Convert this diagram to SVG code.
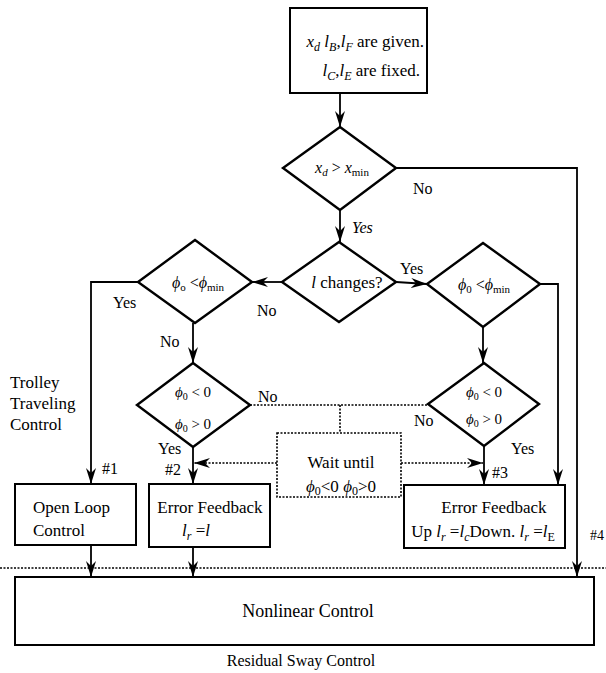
<svg xmlns="http://www.w3.org/2000/svg" width="606" height="673" viewBox="0 0 606 673">
<style>
  text { font-family: 'Liberation Serif', 'DejaVu Serif', serif; fill: #000; }
  .t18 { font-size: 18px; }
  .t17 { font-size: 17px; }
  .t16 { font-size: 16px; }
  .t15 { font-size: 15px; }
  .it { font-style: italic; }
  .box { fill: #fff; stroke: #000; stroke-width: 2; }
  .dia { fill: #fff; stroke: #000; stroke-width: 2.4; }
  .ln { fill: none; stroke: #000; stroke-width: 1.8; }
  .dot { fill: none; stroke: #000; stroke-width: 1.6; stroke-dasharray: 2 1.5; }
  .dotbox { fill: none; stroke: #000; stroke-width: 1.6; stroke-dasharray: 2 1.5; }
</style>
<defs>
  <marker id="arr" viewBox="0 0 16 10" refX="16" refY="5" markerWidth="16" markerHeight="10" markerUnits="userSpaceOnUse" orient="auto">
    <path d="M0,0 L16,5 L0,10 L5,5 z" fill="#000"/>
  </marker>
</defs>

<rect width="606" height="673" fill="#fff"/>

<g font-family="Liberation Serif, DejaVu Serif, serif">
<!-- connectors -->
<g id="connectors">
  <path class="ln" d="M340,93 V127" marker-end="url(#arr)"/>
  <path class="ln" d="M340,210 V242" marker-end="url(#arr)"/>
  <path class="ln" d="M396,168 H577 V577" marker-end="url(#arr)"/>
  <path class="ln" d="M282,282 H252" marker-end="url(#arr)"/>
  <path class="ln" d="M396,282 L427,284" marker-end="url(#arr)"/>
  <path class="ln" d="M138,282 H91 V484" marker-end="url(#arr)"/>
  <path class="ln" d="M193,323 V363" marker-end="url(#arr)"/>
  <path class="ln" d="M193,447 V484" marker-end="url(#arr)"/>
  <path class="ln" d="M540,284 H558 V485" marker-end="url(#arr)"/>
  <path class="ln" d="M483,327 V363" marker-end="url(#arr)"/>
  <path class="ln" d="M484,446 V485" marker-end="url(#arr)"/>
  <path class="ln" d="M91,545 V577" marker-end="url(#arr)"/>
  <path class="ln" d="M193,547 V577" marker-end="url(#arr)"/>
  <!-- waiting branch -->
  <path class="dot" d="M250,405 H428"/>
  <path class="dot" d="M340,405 V433"/>
  <path class="dot" d="M277,463 H194" marker-end="url(#arr)"/>
  <path class="dot" d="M401,463 H483" marker-end="url(#arr)"/>
  <!-- boundary between trolley control and sway control -->
  <path class="dot" d="M0,568 H606"/>
</g>

<!-- start box -->
<g id="start">
  <rect class="box" x="290" y="8" width="137" height="85"/>
  <text class="t17" x="424" y="47" text-anchor="end"><tspan class="it">x</tspan><tspan class="it" font-size="12" dy="4">d</tspan><tspan dy="-4"> </tspan><tspan class="it">l</tspan><tspan class="it" font-size="12" dy="4">B</tspan><tspan dy="-4">,</tspan><tspan class="it">l</tspan><tspan class="it" font-size="12" dy="4">F</tspan><tspan dy="-4">  are given.</tspan></text>
  <text class="t17" x="420" y="76" text-anchor="end"><tspan class="it">l</tspan><tspan class="it" font-size="12" dy="4">C</tspan><tspan dy="-4">,</tspan><tspan class="it">l</tspan><tspan class="it" font-size="12" dy="4">E</tspan><tspan dy="-4">  are fixed.</tspan></text>
</g>

<!-- decision: travel distance -->
<g id="dec-distance">
  <polygon class="dia" points="340,127 396,168 340,210 283,168"/>
  <text class="t16" x="342" y="173" text-anchor="middle"><tspan class="it">x</tspan><tspan class="it" font-size="11" dy="3">d</tspan><tspan dy="-3"> &gt; </tspan><tspan class="it">x</tspan><tspan font-size="11" dy="3">min</tspan></text>
  <text class="t16" x="413" y="194">No</text>
  <text class="t16 it" x="352" y="233">Yes</text>
</g>

<!-- decision: rope length changes -->
<g id="dec-length">
  <polygon class="dia" points="339,242 396,282 339,322 282,282"/>
  <text class="t17" x="347" y="288" text-anchor="middle"><tspan class="it">l</tspan> changes?</text>
  <text class="t16" x="400" y="274">Yes</text>
  <text class="t16" x="257" y="316">No</text>
</g>

<!-- decision: initial sway, constant length -->
<g id="dec-sway-left">
  <polygon class="dia" points="195,240 252,282 195,323 138,282"/>
  <text class="t16" x="198" y="288" text-anchor="middle"><tspan class="it">ϕ</tspan><tspan font-size="11" dy="3">o</tspan><tspan dy="-3"> &lt;</tspan><tspan class="it">ϕ</tspan><tspan font-size="11" dy="3">min</tspan></text>
  <text class="t16" x="113" y="308">Yes</text>
  <text class="t16" x="160" y="347">No</text>
</g>

<!-- decision: initial sway, changing length -->
<g id="dec-sway-right">
  <polygon class="dia" points="483,243 540,284 483,327 427,284"/>
  <text class="t16" x="484" y="290" text-anchor="middle"><tspan class="it">ϕ</tspan><tspan font-size="11" dy="3">0</tspan><tspan dy="-3"> &lt;</tspan><tspan class="it">ϕ</tspan><tspan font-size="11" dy="3">min</tspan></text>
</g>

<!-- decision: sway sign, constant length -->
<g id="dec-sign-left">
  <polygon class="dia" points="193,363 250,405 193,447 137,405"/>
  <text class="t15" x="193" y="397" text-anchor="middle"><tspan class="it">ϕ</tspan><tspan font-size="10" dy="3">0</tspan><tspan dy="-3"> &lt; 0</tspan></text>
  <text class="t15" x="193" y="429" text-anchor="middle"><tspan class="it">ϕ</tspan><tspan font-size="10" dy="3">0</tspan><tspan dy="-3"> &gt; 0</tspan></text>
  <text class="t16" x="258" y="402">No</text>
  <text class="t16" x="158" y="454">Yes</text>
  <text class="t16" x="165" y="475">#2</text>
</g>

<!-- decision: sway sign, changing length -->
<g id="dec-sign-right">
  <polygon class="dia" points="484,363 539,404 484,446 428,404"/>
  <text class="t15" x="484" y="397" text-anchor="middle"><tspan class="it">ϕ</tspan><tspan font-size="10" dy="3">0</tspan><tspan dy="-3"> &lt; 0</tspan></text>
  <text class="t15" x="484" y="424" text-anchor="middle"><tspan class="it">ϕ</tspan><tspan font-size="10" dy="3">0</tspan><tspan dy="-3"> &gt; 0</tspan></text>
  <text class="t16" x="414" y="426">No</text>
  <text class="t16" x="511" y="454">Yes</text>
  <text class="t16" x="492" y="478">#3</text>
</g>

<!-- wait block -->
<g id="wait">
  <rect class="dotbox" x="277" y="433" width="124" height="64"/>
  <text class="t17" x="341" y="468" text-anchor="middle">Wait until</text>
  <text class="t17" x="341" y="492" text-anchor="middle"><tspan class="it">ϕ</tspan><tspan font-size="12" dy="3">0</tspan><tspan dy="-3">&lt;0 </tspan><tspan class="it">ϕ</tspan><tspan font-size="12" dy="3">0</tspan><tspan dy="-3">&gt;0</tspan></text>
</g>

<!-- left side label -->
<g id="label-trolley">
  <text class="t17" x="10" y="388">Trolley</text>
  <text class="t17" x="10" y="409">Traveling</text>
  <text class="t17" x="10" y="430">Control</text>
  <text class="t16" x="102" y="474">#1</text>
</g>

<!-- open loop control -->
<g id="open-loop">
  <rect class="box" x="15" y="484" width="121" height="61"/>
  <text class="t17" x="33" y="513">Open Loop</text>
  <text class="t17" x="33" y="536">Control</text>
</g>

<!-- error feedback, constant length -->
<g id="feedback-const">
  <rect class="box" x="149" y="484" width="121" height="63"/>
  <text class="t17" x="210" y="513" text-anchor="middle">Error Feedback</text>
  <text class="t17" x="196" y="536" text-anchor="middle"><tspan class="it">l</tspan><tspan class="it" font-size="12" dy="4">r</tspan><tspan dy="-4"> =</tspan><tspan class="it">l</tspan></text>
</g>

<!-- error feedback, changing length -->
<g id="feedback-vary">
  <rect class="box" x="404" y="485" width="161" height="63"/>
  <text class="t17" x="494" y="513" text-anchor="middle">Error Feedback</text>
  <text class="t17" x="483" y="537" text-anchor="middle">Up <tspan class="it">l</tspan><tspan class="it" font-size="12" dy="4">r</tspan><tspan dy="-4"> =</tspan><tspan class="it">l</tspan><tspan class="it" font-size="12" dy="4">c</tspan><tspan dy="-4">Down. </tspan><tspan class="it">l</tspan><tspan class="it" font-size="12" dy="4">r</tspan><tspan dy="-4"> =</tspan><tspan class="it">l</tspan><tspan font-size="12" dy="4">E</tspan></text>
  <text class="t14" x="590" y="540" font-size="14">#4</text>
</g>

<!-- nonlinear control -->
<g id="nonlinear">
  <rect class="box" x="15" y="577" width="579" height="68"/>
  <text class="t18" x="308" y="617" text-anchor="middle">Nonlinear Control</text>
  <text class="t16" x="301" y="666" text-anchor="middle">Residual Sway Control</text>
</g>
</g>
</svg>
